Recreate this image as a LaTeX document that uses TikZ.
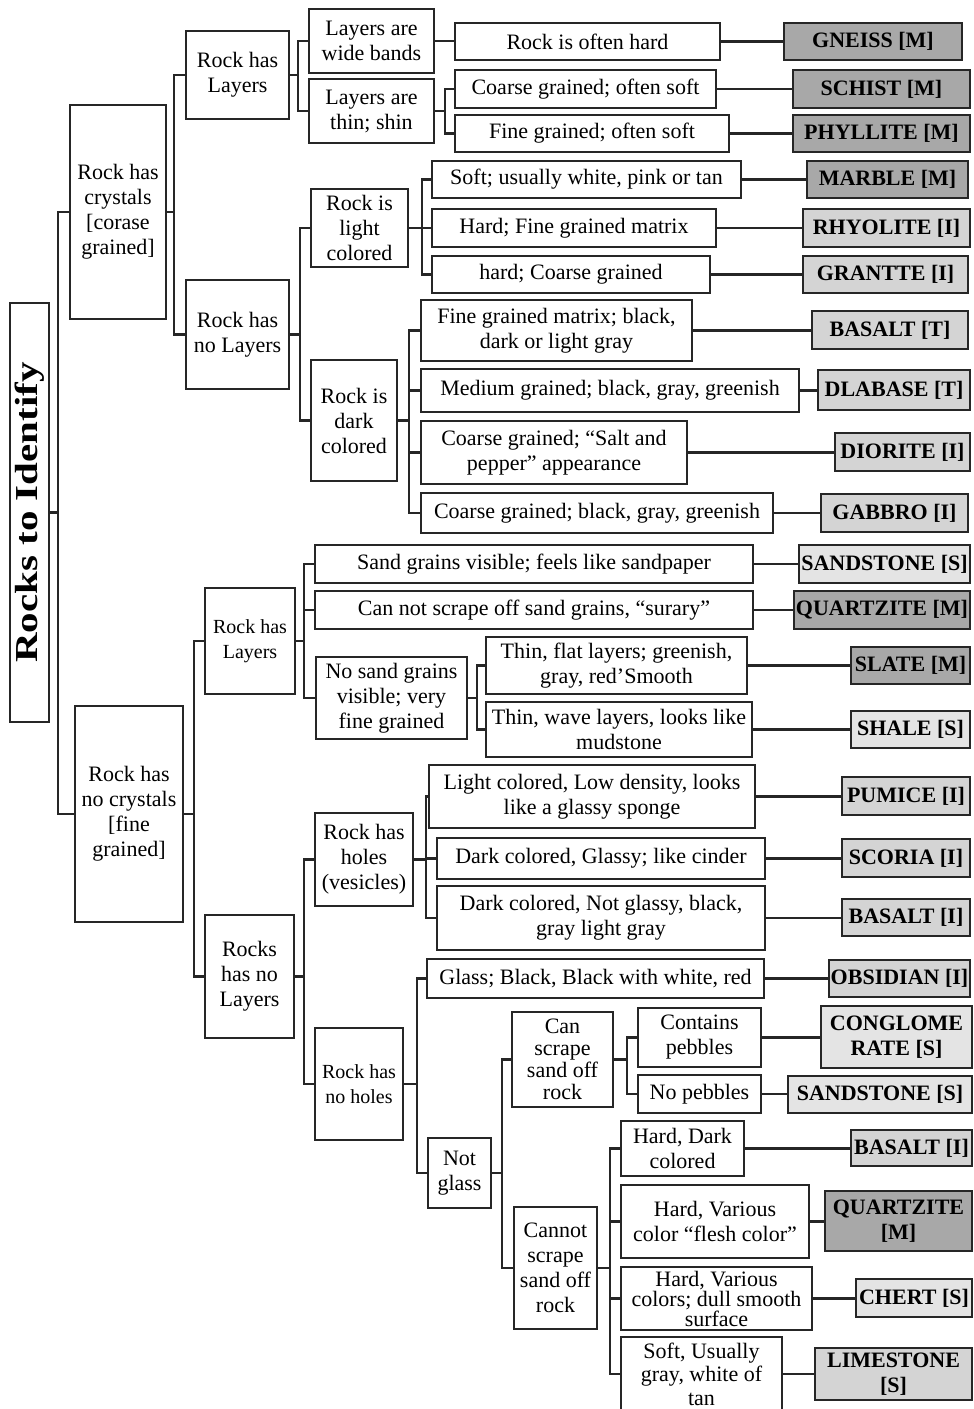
\documentclass[tikz,border=0pt]{standalone}
\usepackage{fontspec}
\setmainfont{Liberation Serif}
\usepackage{graphicx}
\definecolor{lc}{RGB}{38,38,38}
\definecolor{colM}{RGB}{168,168,168}
\definecolor{colI}{RGB}{212,212,212}
\definecolor{colS}{RGB}{228,228,228}
\tikzset{
  box/.style={draw=lc, line width=2.2pt, fill=white, inner sep=0pt, align=center, font=\fontsize{22}{25}\selectfont},
  smalltext/.style={font=\fontsize{20}{25}\selectfont},
  tightA/.style={font=\fontsize{22}{22}\selectfont},
  tightB/.style={font=\fontsize{22}{20}\selectfont},
  tightC/.style={font=\fontsize{22}{23.5}\selectfont},
  leafM/.style={box, fill=colM, font=\fontsize{22}{25}\selectfont\bfseries},
  leafI/.style={box, fill=colI, font=\fontsize{22}{25}\selectfont\bfseries},
  leafS/.style={box, fill=colS, font=\fontsize{22}{25}\selectfont\bfseries},
  conn/.style={draw=lc, line width=2.2pt},
}
\newcommand\bx[7]{\node[#6, minimum width={(#4)-(#2)}, minimum height={(#5)-(#3)}] (#1) at ({((#2)+(#4))/2},{((#3)+(#5))/2}) {#7};}
\newcommand\branch[3]{\foreach \c in {#3} {\draw[conn] (#1.east) -- ++(#2,0) |- (\c.west);}}
\begin{document}
\begin{tikzpicture}[x=1pt,y=-1pt]
\useasboundingbox (0,0) rectangle (974,1409);
% root
\node[box, minimum width=39, minimum height=419] (root) at (29.5,512.5)
  {\rotatebox{90}{\scalebox{1.28}[1]{\fontsize{32}{32}\selectfont\bfseries Rocks to Identify}}};
% level 1
\bx{crys}{70}{105}{166}{319}{box}{Rock has\\crystals\\{}[corase\\grained]}
\bx{nocrys}{75}{706}{183}{922}{box}{Rock has\\no crystals\\{}[fine\\grained]}
% crystals branch
\bx{layA}{186}{31}{289}{119}{box}{Rock has\\Layers}
\bx{nolayA}{186}{280}{289}{389}{box}{Rock has\\no Layers}
\bx{wide}{309}{9}{434}{73}{box}{Layers are\\wide bands}
\bx{thin}{309}{79}{434}{143}{box}{Layers are\\thin; shin}
\bx{d1}{455}{23}{720}{60}{box}{Rock is often hard}
\bx{d2}{455}{70}{716}{108}{box}{Coarse grained; often soft}
\bx{d3}{455}{115}{729}{152}{box}{Fine grained; often soft}
\bx{gneiss}{784}{23}{962}{60}{leafM}{GNEISS [M]}
\bx{schist}{793}{70}{970}{108}{leafM}{SCHIST [M]}
\bx{phyl}{793}{115}{970}{152}{leafM}{PHYLLITE [M]}
\bx{light}{311}{189}{408}{267}{box}{Rock is\\light\\colored}
\bx{d4}{432}{161}{741}{198}{box}{Soft; usually white, pink or tan}
\bx{d5}{432}{209}{716}{247}{box}{Hard; Fine grained matrix}
\bx{d6}{432}{256}{710}{293}{box}{hard; Coarse grained}
\bx{marble}{807}{161}{968}{198}{leafM}{MARBLE [M]}
\bx{rhyo}{803}{209}{970}{247}{leafI}{RHYOLITE [I]}
\bx{gran}{803}{256}{968}{293}{leafI}{GRANTTE [I]}
\bx{dark}{311}{360}{397}{481}{box}{Rock is\\dark\\colored}
\bx{d7}{421}{300}{692}{361}{box}{Fine grained matrix; black,\\dark or light gray}
\bx{d8}{421}{369}{799}{412}{box}{Medium grained; black, gray, greenish}
\bx{d9}{421}{421}{687}{484}{box}{Coarse grained; “Salt and\\pepper” appearance}
\bx{d10}{421}{493}{773}{533}{box}{Coarse grained; black, gray, greenish}
\bx{basT}{812}{311}{968}{349}{leafI}{BASALT [T]}
\bx{dlab}{818}{370}{970}{410}{leafI}{DLABASE [T]}
\bx{dior}{835}{433}{970}{471}{leafI}{DIORITE [I]}
\bx{gabb}{821}{494}{968}{532}{leafI}{GABBRO [I]}
% no crystals branch
\bx{layB}{205}{588}{295}{694}{box,smalltext}{Rock has\\Layers}
\bx{d11}{315}{545}{753}{583}{box}{Sand grains visible; feels like sandpaper}
\bx{d12}{315}{591}{753}{629}{box}{Can not scrape off sand grains, “surary”}
\bx{nosand}{316}{657}{467}{739}{box}{No sand grains\\visible; very\\fine grained}
\bx{d13}{486}{637}{747}{694}{box}{Thin, flat layers; greenish,\\gray, red’Smooth}
\bx{d14}{486}{702}{752}{757}{box}{Thin, wave layers, looks like\\mudstone}
\bx{sand1}{799}{545}{970}{583}{leafS}{SANDSTONE [S]}
\bx{quartz1}{794}{591}{970}{629}{leafM}{QUARTZITE [M]}
\bx{slate}{851}{647}{970}{684}{leafM}{SLATE [M]}
\bx{shale}{851}{711}{970}{748}{leafS}{SHALE [S]}
\bx{nolayB}{205}{915}{294}{1038}{box}{Rocks\\has no\\Layers}
\bx{holes}{315}{813}{413}{906}{box}{Rock has\\holes\\(vesicles)}
\bx{d15}{429}{765}{755}{828}{box}{Light colored, Low density, looks\\like a glassy sponge}
\bx{d16}{437}{838}{765}{879}{box}{Dark colored, Glassy; like cinder}
\bx{d17}{437}{886}{765}{950}{box}{Dark colored, Not glassy, black,\\gray light gray}
\bx{pumice}{842}{777}{970}{815}{leafI}{PUMICE [I]}
\bx{scoria}{842}{839}{970}{877}{leafI}{SCORIA [I]}
\bx{basI}{842}{899}{970}{936}{leafI}{BASALT [I]}
\bx{noholes}{315}{1028}{403}{1140}{box,smalltext}{Rock has\\no holes}
\bx{d18}{427}{959}{764}{998}{box}{Glass; Black, Black with white, red}
\bx{obs}{829}{960}{970}{997}{leafI}{OBSIDIAN [I]}
\bx{notglass}{428}{1138}{491}{1208}{box}{Not\\glass}
\bx{can}{512}{1012}{613}{1107}{box,tightA}{Can\\scrape\\sand off\\rock}
\bx{cannot}{514}{1207}{597}{1329}{box}{Cannot\\scrape\\sand off\\rock}
\bx{d19}{638}{1008}{761}{1067}{box}{Contains\\pebbles}
\bx{d20}{638}{1075}{761}{1113}{box}{No pebbles}
\bx{cong}{821}{1006}{972}{1068}{leafS}{CONGLOME\\RATE [S]}
\bx{sand2}{788}{1076}{972}{1113}{leafS}{SANDSTONE [S]}
\bx{d21}{621}{1121}{744}{1176}{box}{Hard, Dark\\colored}
\bx{d22}{621}{1185}{809}{1258}{box}{Hard, Various\\color “flesh color”}
\bx{d23}{621}{1267}{812}{1330}{box,tightB}{Hard, Various\\colors; dull smooth\\surface}
\bx{d24}{621}{1337}{782}{1411}{box,tightC}{Soft, Usually\\gray, white of\\tan}
\bx{basI2}{851}{1130}{972}{1166}{leafI}{BASALT [I]}
\bx{quartz2}{825}{1191}{972}{1251}{leafM}{QUARTZITE\\{}[M]}
\bx{chert}{856}{1279}{972}{1317}{leafS}{CHERT [S]}
\bx{lime}{815}{1348}{972}{1400}{leafI}{LIMESTONE\\{}[S]}
% tree connectors
\branch{root}{8}{crys,nocrys}
\branch{crys}{7}{layA,nolayA}
\branch{layA}{8}{wide,thin}
\branch{thin}{10}{d2,d3}
\branch{nolayA}{10}{light,dark}
\branch{light}{13}{d4,d5,d6}
\branch{dark}{11}{d7,d8,d9,d10}
\branch{nocrys}{10}{layB,nolayB}
\branch{layB}{8}{d11,d12,nosand}
\branch{nosand}{9}{d13,d14}
\branch{nolayB}{9}{holes,noholes}
\branch{holes}{12}{d15,d16,d17}
\branch{noholes}{13}{d18,notglass}
\branch{notglass}{10}{can,cannot}
\branch{can}{13}{d19,d20}
\branch{cannot}{12}{d21,d22,d23,d24}
% straight connectors to leaves
\foreach \a/\b in {wide/d1, d1/gneiss, d2/schist, d3/phyl, d4/marble, d5/rhyo, d6/gran,
  d7/basT, d8/dlab, d9/dior, d10/gabb, d11/sand1, d12/quartz1, d13/slate, d14/shale,
  d15/pumice, d16/scoria, d17/basI, d18/obs, d19/cong, d20/sand2, d21/basI2,
  d22/quartz2, d23/chert, d24/lime}
  {\draw[conn] (\a.east) -- (\a.east -| \b.west);}
\end{tikzpicture}
\end{document}
